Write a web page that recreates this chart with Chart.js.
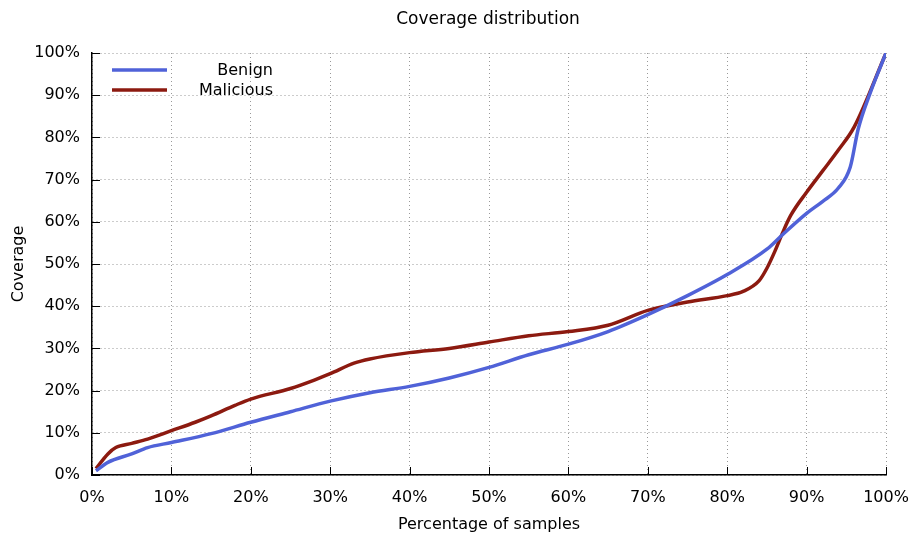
<!DOCTYPE html>
<html lang="en">
<head>
    <meta charset="UTF-8">
    <title>Coverage distribution</title>
    <script src="https://cdn.jsdelivr.net/npm/chart.js"></script>
    <style>
        html, body {
            margin: 0;
            padding: 0;
            background: white;
        }
        .wrap {
            width: 910px;
            height: 534px;
        }
    </style>
</head>
<body>
    <div class="wrap"><canvas id="coverageChart" width="910" height="534"></canvas></div>

    <script>
        // percentage of samples (x) and coverage (y)
        const benignX = [0.5, 2, 5, 7, 10, 15, 20, 25, 30, 35, 40, 45, 50, 55, 60, 65, 70, 75, 80, 85, 87, 90, 92, 94, 95.5, 96.5, 98, 100];
        const benignY = [1, 3, 5, 6.5, 7.7, 9.8, 12.5, 15, 17.5, 19.5, 21, 23, 25.5, 28.5, 31, 34, 38, 42.5, 47.5, 53.5, 57, 62, 64.8, 68, 73, 82, 90.5, 100];

        const maliciousX = [0.5, 2, 3, 5, 7, 10, 13, 15, 18, 20, 25, 28, 30, 33, 35, 40, 45, 50, 55, 60, 65, 70, 75, 80, 82, 84, 85, 86, 87, 88, 90, 92, 94, 96, 100];
        const maliciousY = [1.5, 5, 6.5, 7.5, 8.5, 10.5, 12.5, 14, 16.5, 18, 20.5, 22.5, 24, 26.5, 27.5, 29, 30, 31.5, 33, 34, 35.5, 39, 41, 42.5, 43.5, 46, 49, 53, 57.5, 61.5, 67, 72, 77, 82.5, 100];

        const tickValues = [0, 10, 20, 30, 40, 50, 60, 70, 80, 90, 100];

        const seriesNames = ["Benign", "Malicious"];
        const seriesColors = ["#5062d8", "#8c1a10"];

        function toPoints(xs, ys) {
            return xs.map((x, i) => ({ x: x, y: ys[i] }));
        }

        const FONT = "'DejaVu Sans', Verdana, sans-serif";

        // gnuplot style: ticks point into the plot, legend drawn inside, title on top
        const gnuplotBits = {
            id: 'gnuplotBits',
            afterDraw(chart) {
                const ctx = chart.ctx;
                const xs = chart.scales.x;
                const ys = chart.scales.y;
                ctx.save();
                ctx.strokeStyle = '#000';
                ctx.lineWidth = 1;
                tickValues.forEach(v => {
                    const px = Math.round(xs.getPixelForValue(v)) + 0.5;
                    ctx.beginPath();
                    ctx.moveTo(px, ys.bottom);
                    ctx.lineTo(px, ys.bottom - 8);
                    ctx.stroke();
                    const py = Math.round(ys.getPixelForValue(v)) + 0.5;
                    ctx.beginPath();
                    ctx.moveTo(xs.left, py);
                    ctx.lineTo(xs.left + 8, py);
                    ctx.stroke();
                });

                // title
                ctx.fillStyle = '#000';
                ctx.font = '17px ' + FONT;
                ctx.textAlign = 'center';
                ctx.textBaseline = 'middle';
                ctx.fillText('Coverage distribution', 488, 20);

                // legend
                ctx.font = '16px ' + FONT;
                ctx.textAlign = 'right';
                seriesNames.forEach((name, i) => {
                    const y = 70 + i * 20;
                    ctx.strokeStyle = seriesColors[i];
                    ctx.lineWidth = 3.5;
                    ctx.beginPath();
                    ctx.moveTo(112, y);
                    ctx.lineTo(167, y);
                    ctx.stroke();
                    ctx.fillText(name, 273, y + 1);
                });
                ctx.restore();
            }
        };

        new Chart(document.getElementById("coverageChart"), {
            type: 'line',
            data: {
                datasets: [
                    {
                        label: seriesNames[0],
                        data: toPoints(benignX, benignY),
                        borderColor: seriesColors[0],
                        borderWidth: 3.5,
                        pointRadius: 0,
                        cubicInterpolationMode: 'monotone',
                        fill: false
                    },
                    {
                        label: seriesNames[1],
                        data: toPoints(maliciousX, maliciousY),
                        borderColor: seriesColors[1],
                        borderWidth: 3.5,
                        pointRadius: 0,
                        cubicInterpolationMode: 'monotone',
                        fill: false
                    }
                ]
            },
            options: {
                responsive: false,
                animation: false,
                layout: {
                    padding: { top: 53, right: 24, left: 0, bottom: 0 }
                },
                scales: {
                    x: {
                        type: 'linear',
                        min: 0,
                        max: 100,
                        afterBuildTicks: axis => { axis.ticks = tickValues.map(v => ({ value: v })); },
                        afterFit: axis => {
                            axis.height = 59;
                            axis.paddingLeft = 0;
                            axis.paddingRight = 0;
                        },
                        ticks: {
                            color: '#000',
                            font: { family: FONT, size: 16 },
                            padding: 13,
                            maxRotation: 0,
                            callback: v => v + '%'
                        },
                        grid: {
                            color: '#999',
                            lineWidth: 1,
                            drawTicks: false
                        },
                        border: { color: '#000', width: 1.5, dash: [1, 3] },
                        title: {
                            display: true,
                            text: 'Percentage of samples',
                            color: '#000',
                            font: { family: FONT, size: 16 },
                            padding: { top: 4, bottom: 0 }
                        }
                    },
                    y: {
                        type: 'linear',
                        min: 0,
                        max: 100,
                        afterBuildTicks: axis => { axis.ticks = tickValues.map(v => ({ value: v })); },
                        afterFit: axis => {
                            axis.width = 92;
                            axis.paddingTop = 0;
                            axis.paddingBottom = 0;
                        },
                        ticks: {
                            color: '#000',
                            font: { family: FONT, size: 16 },
                            padding: 12,
                            callback: v => v + '%'
                        },
                        grid: {
                            color: '#999',
                            lineWidth: 1,
                            drawTicks: false
                        },
                        border: { color: '#000', width: 1.5, dash: [1, 3] },
                        title: {
                            display: true,
                            text: 'Coverage',
                            color: '#000',
                            font: { family: FONT, size: 16 },
                            padding: { top: 9, bottom: 0 }
                        }
                    }
                },
                plugins: {
                    legend: { display: false },
                    tooltip: { enabled: false },
                    title: { display: false }
                }
            },
            plugins: [gnuplotBits]
        });
    </script>
</body>
</html>
